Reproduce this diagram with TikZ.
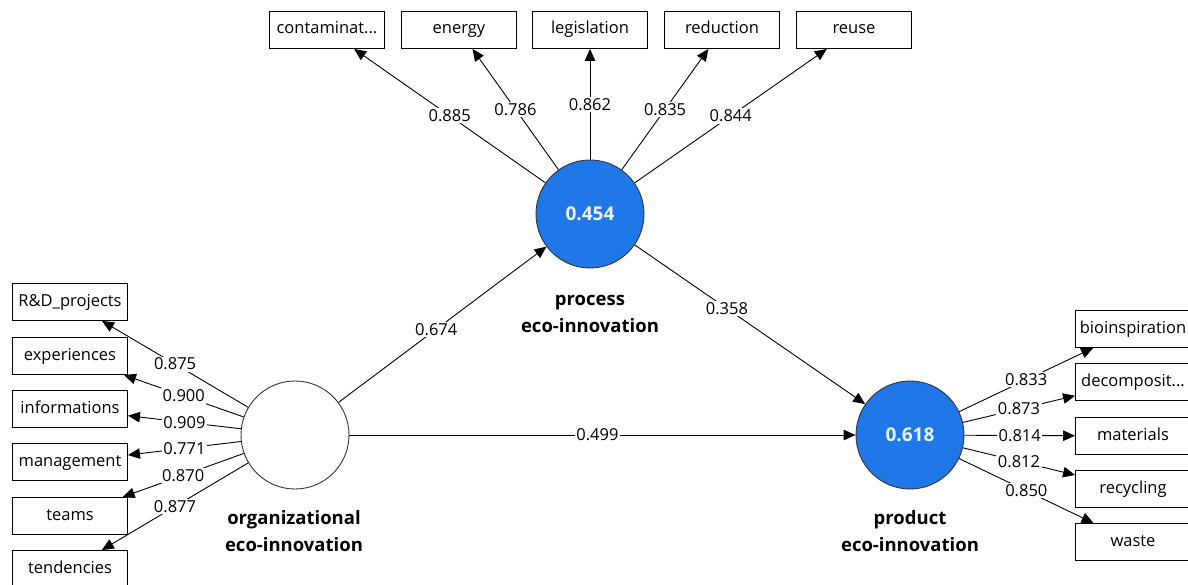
\documentclass[tikz,border=0pt]{standalone}
\usepackage{fontspec}
\setmainfont{Open Sans}
\usepackage{tikz}
\usetikzlibrary{arrows.meta,positioning}
\definecolor{plsblue}{RGB}{31,119,232}
\definecolor{valwhite}{RGB}{236,243,255}

\begin{document}
\begin{tikzpicture}[x=1pt, y=-1pt, line width=0.9pt,
  >={Triangle[length=12pt,width=10.5pt]},
  font=\fontsize{16.5}{18}\selectfont,
  indicator/.style={draw, fill=white, minimum width=115pt, minimum height=37pt, inner sep=1pt,
    text height=12pt, text depth=4pt},
  construct/.style={circle, draw=black!80, minimum size=108pt, inner sep=0pt},
  latentval/.style={construct, fill=plsblue, text=valwhite, font=\bfseries\fontsize{19}{20}\selectfont},
  loading/.style={fill=white, inner sep=1.5pt},
  cname/.style={font=\bfseries\fontsize{18.5}{27}\selectfont, align=center}]
\useasboundingbox (0,0) rectangle (1188,585);

% constructs
\node[construct, fill=white] (org) at (295,435) {};
\node[latentval] (proc) at (590,214) {0.454};
\node[latentval] (prod) at (910,435) {0.618};
\node[cname] (orgname) at (294,531) {organizational\\eco-innovation};
\node[cname] (procname) at (590,314) {process\\eco-innovation};
\node[cname] (prodname) at (910,531) {product\\eco-innovation};

% process indicators
\node[indicator] (contam) at (327,30) {contaminat...};
\node[indicator] (energy) at (459,30) {energy};
\node[indicator] (legis) at (590,30) {legislation};
\node[indicator] (reduc) at (722,30) {reduction};
\node[indicator] (reuse) at (854,30) {reuse};

% organizational indicators
\node[indicator] (rd) at (70,302) {R\&D\_projects};
\node[indicator] (exper) at (70,356) {experiences};
\node[indicator] (info) at (70,409) {informations};
\node[indicator] (manag) at (70,462) {management};
\node[indicator] (teams) at (70,516) {teams};
\node[indicator] (tend) at (70,569) {tendencies};

% product indicators
\node[indicator] (bio) at (1133,329) {bioinspiration};
\node[indicator] (decomp) at (1133,382) {decomposit...};
\node[indicator] (mater) at (1133,436) {materials};
\node[indicator] (recyc) at (1133,489) {recycling};
\node[indicator] (waste) at (1133,542) {waste};

% outer loadings
\draw[->] (proc) -- node[loading] {0.885} (contam);
\draw[->] (proc) -- node[loading] {0.786} (energy);
\draw[->] (proc) -- node[loading] {0.862} (legis);
\draw[->] (proc) -- node[loading] {0.835} (reduc);
\draw[->] (proc) -- node[loading] {0.844} (reuse);

\draw[->] (org) -- node[loading] {0.875} (rd);
\draw[->] (org) -- node[loading] {0.900} (exper);
\draw[->] (org) -- node[loading] {0.909} (info);
\draw[->] (org) -- node[loading] {0.771} (manag);
\draw[->] (org) -- node[loading] {0.870} (teams);
\draw[->] (org) -- node[loading] {0.877} (tend);

\draw[->] (prod) -- node[loading] {0.833} (bio);
\draw[->] (prod) -- node[loading] {0.873} (decomp);
\draw[->] (prod) -- node[loading] {0.814} (mater);
\draw[->] (prod) -- node[loading] {0.812} (recyc);
\draw[->] (prod) -- node[loading] {0.850} (waste);

% path coefficients
\draw[->] (org) -- node[loading, pos=0.47] {0.674} (proc);
\draw[->] (proc) -- node[loading, pos=0.4] {0.358} (prod);
\draw[->] (org) -- node[loading, pos=0.49] {0.499} (prod);
\end{tikzpicture}
\end{document}
